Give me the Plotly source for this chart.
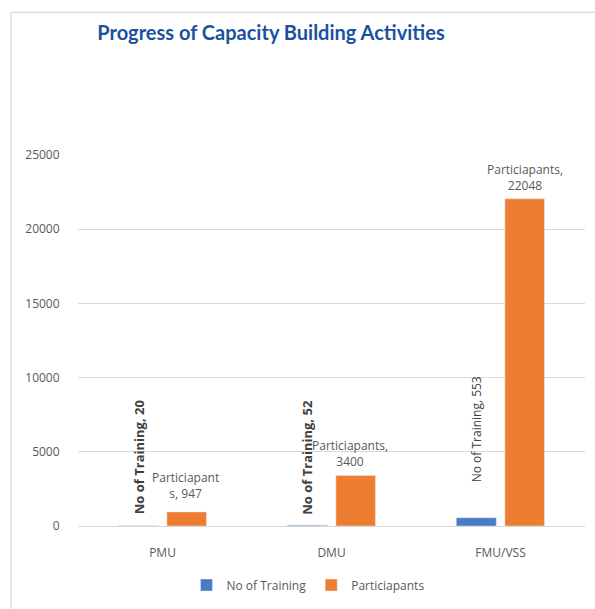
import plotly.graph_objects as go

# ---- data ----
categories = ["PMU", "DMU", "FMU/VSS"]
training = [20, 52, 553]
participants = [947, 3400, 22048]
series_names = ["No of Training", "Particiapants"]
y_ticks = [0, 5000, 10000, 15000, 20000, 25000]

training_labels = [f"{series_names[0]}, {v}" for v in training]
participant_labels = [
    f"Particiapant<br>s, {participants[0]}",
    f"{series_names[1]},<br>{participants[1]}",
    f"{series_names[1]},<br>{participants[2]}",
]

BLUE = "#4a7bc4"
ORANGE = "#ed7d31"
GRID = "#d9d9d9"
TXT = "#595959"
FONT = "Open Sans"

W, H = 595, 609
L, R, T, B = 78, 10, 155, 77
pw, ph = W - L - R, H - T - B

fig = go.Figure()
fig.add_trace(go.Bar(
    x=categories, y=training, name=series_names[0],
    marker=dict(color=BLUE), width=0.237, offset=-0.262,
))
fig.add_trace(go.Bar(
    x=categories, y=participants, name=series_names[1],
    marker=dict(color=ORANGE), width=0.234, offset=0.026,
))

annotations = []
# rotated labels for training series
t_shift = [68, 68, 88]
t_bold = [True, True, False]
t_size = [13, 13, 12]
for c, v, lab, ys, bd, sz in zip(categories, training, training_labels, t_shift, t_bold, t_size):
    annotations.append(dict(
        x=c, y=v, xref="x", yref="y", text=f"<b>{lab}</b>" if bd else lab,
        textangle=-90, showarrow=False, xanchor="center", yanchor="middle",
        xshift=-24, yshift=ys, font=dict(family=FONT, size=sz, color="#404040"),
    ))
# participant labels
p_shift = [8, 4, 3]
p_x = [23, 18, 24]
for c, v, lab, ys, xs in zip(categories, participants, participant_labels, p_shift, p_x):
    annotations.append(dict(
        x=c, y=v, xref="x", yref="y", text=lab, showarrow=False,
        xanchor="center", yanchor="bottom", xshift=xs, yshift=ys,
        font=dict(family=FONT, size=12, color=TXT),
    ))

fig.update_layout(
    width=W, height=H,
    margin=dict(l=L, r=R, t=T, b=B, pad=0),
    paper_bgcolor="white", plot_bgcolor="white",
    title=dict(
        text="<b>Progress of Capacity Building Activities</b>",
        x=271 / W, xref="container", xanchor="center",
        y=1 - 33 / H, yref="container", yanchor="middle",
        font=dict(family="Lato", size=20, color="#1a52a0"),
    ),
    barmode="group",
    showlegend=True,
    legend=dict(
        orientation="h", x=(308 - L) / pw, xanchor="center",
        y=-(592 - (T + ph)) / ph, yanchor="middle",
        font=dict(family=FONT, size=12, color=TXT),
        itemwidth=30, tracegroupgap=0,
    ),
    xaxis=dict(
        showgrid=False, showline=True, linecolor=GRID, linewidth=1,
        ticks="outside", ticklen=16, tickcolor="rgba(0,0,0,0)",
        tickfont=dict(family=FONT, size=12, color=TXT),
    ),
    yaxis=dict(
        range=[0, 25000], tickvals=y_ticks, ticktext=[str(v) for v in y_ticks],
        showgrid=True, gridcolor=GRID, gridwidth=1,
        zeroline=True, zerolinecolor=GRID, zerolinewidth=1,
        showline=False,
        ticks="outside", ticklen=15, tickcolor="rgba(0,0,0,0)",
        tickfont=dict(family=FONT, size=12, color=TXT),
    ),
    annotations=annotations,
    shapes=[dict(
        type="rect", xref="paper", yref="paper",
        x0=(11 - L) / pw, x1=(W + 30 - L) / pw,
        y0=-(H + 30 - (T + ph)) / ph, y1=((T + ph) - 10) / ph,
        line=dict(color="#d0d0d0", width=1), fillcolor="rgba(0,0,0,0)",
        layer="below",
    )],
)

fig.write_html("out.html")
